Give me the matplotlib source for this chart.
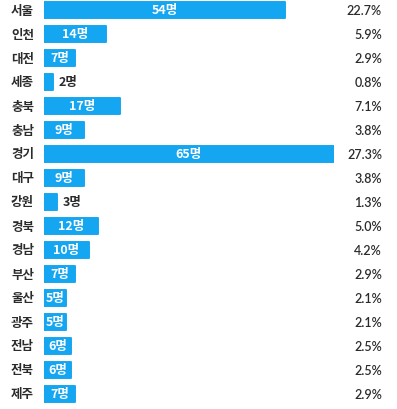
import matplotlib
matplotlib.use("Agg")
import matplotlib.pyplot as plt

# data
regions = ["서울", "인천", "대전", "세종", "충북", "충남", "경기", "대구", "강원",
           "경북", "경남", "부산", "울산", "광주", "전남", "전북", "제주"]
counts = [54, 14, 7, 2, 17, 9, 65, 9, 3, 12, 10, 7, 5, 5, 6, 6, 7]
shares = ["22.7%", "5.9%", "2.9%", "0.8%", "7.1%", "3.8%", "27.3%", "3.8%", "1.3%",
          "5.0%", "4.2%", "2.9%", "2.1%", "2.1%", "2.5%", "2.5%", "2.9%"]

blue = "#15a6f1"
dark = "#2b2b2b"
kr = ["Noto Sans CJK KR", "DejaVu Sans"]
num = ["Lato", "Noto Sans CJK KR", "DejaVu Sans"]

W, H = 397, 410
fig = plt.figure(figsize=(W / 100, H / 100), dpi=100)
# plot area: value 0 at x=44px, value 65 at x=335px
ax = fig.add_axes([44 / W, 0, (334 - 44) / W, 1])
ax.set_xlim(0, 65)
ax.set_ylim((H - 11) / 24, -11 / 24)
ax.axis("off")

ys = list(range(len(regions)))
ax.barh(ys, counts, height=0.7, color=blue, edgecolor=blue,
        linewidth=1.4, joinstyle="round")

for y, name, c, s in zip(ys, regions, counts, shares):
    fig.text(11 / W, 1 - (11 + 24 * y) / H, name, ha="left", va="center",
             fontsize=9, fontweight="bold", color=dark, family=kr)
    if c >= 5:
        ax.text(c / 2, y, f"{c}명", ha="center", va="center", fontsize=9,
                fontweight="bold", color="white", family=kr)
    else:
        ax.text(c + 1.2, y, f"{c}명", ha="left", va="center", fontsize=9,
                fontweight="bold", color=dark, family=kr)
    fig.text(382 / W, 1 - (11 + 24 * y) / H, s, ha="right", va="center",
             fontsize=9, fontweight="semibold", color=dark, family=num)

fig.savefig("out.png", dpi=100)
